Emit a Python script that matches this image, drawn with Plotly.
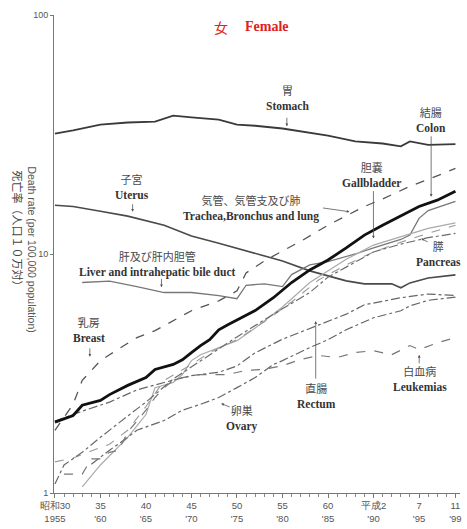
import plotly.graph_objects as go

# ---------------- data ----------------
stomach_years = [1955, 1957, 1960, 1963, 1966, 1968, 1970, 1973, 1975, 1977, 1980, 1982, 1985, 1988, 1991, 1993, 1994, 1996, 1999]
stomach_vals = [31.9, 32.9, 34.8, 35.5, 35.8, 37.9, 37.3, 36.5, 34.8, 34.4, 33.5, 32.6, 31.3, 29.6, 29.0, 28.2, 29.6, 28.6, 28.8]

uterus_years = [1955, 1957, 1960, 1963, 1967, 1970, 1973, 1976, 1980, 1983, 1987, 1989, 1992, 1993, 1994, 1996, 1999]
uterus_vals = [16.0, 15.8, 15.1, 14.4, 13.2, 11.9, 11.1, 10.3, 9.35, 8.5, 7.72, 7.5, 7.5, 7.22, 7.57, 7.94, 8.18]

liver_years = [1958, 1961, 1964, 1967, 1970, 1973, 1975, 1976, 1978, 1980, 1981, 1983, 1985, 1988, 1990, 1993, 1994, 1995, 1996, 1999]
liver_vals = [7.6, 7.7, 7.3, 6.9, 6.9, 6.7, 6.5, 7.4, 7.5, 7.3, 8.2, 9.0, 9.3, 10.0, 10.6, 11.5, 12.0, 14.1, 15.2, 16.6]

colon_years = [1955, 1957, 1958, 1960, 1961, 1962, 1963, 1965, 1966, 1968, 1969, 1970, 1971, 1972, 1973, 1974, 1977, 1979, 1981, 1983, 1985, 1987, 1989, 1991, 1993, 1995, 1997, 1999]
colon_vals = [1.98, 2.11, 2.33, 2.44, 2.58, 2.69, 2.82, 3.04, 3.29, 3.45, 3.61, 3.87, 4.14, 4.38, 4.82, 5.06, 5.8, 6.56, 7.6, 8.58, 9.44, 10.6, 12.0, 13.2, 14.5, 15.8, 16.8, 18.3]

lung_years = [1955, 1957, 1958, 1960, 1961, 1964, 1966, 1968, 1970, 1973, 1975, 1976, 1978, 1980, 1982, 1985, 1987, 1989, 1991, 1994, 1996, 1999]
lung_vals = [1.83, 2.35, 2.96, 3.58, 3.79, 4.47, 4.78, 5.26, 5.79, 6.37, 7.01, 8.33, 9.35, 10.3, 11.3, 13.2, 14.5, 15.8, 17.0, 19.2, 20.5, 22.8]

gall_years = [1958, 1960, 1963, 1965, 1966, 1968, 1969, 1970, 1971, 1973, 1975, 1977, 1980, 1983, 1985, 1987, 1990, 1993, 1996, 1999]
gall_vals = [1.06, 1.31, 1.71, 2.13, 2.76, 2.9, 3.13, 3.58, 3.79, 4.06, 4.34, 4.9, 6.0, 7.6, 8.5, 9.5, 10.9, 11.8, 12.8, 13.5]

pancreas_years = [1955, 1956, 1958, 1960, 1963, 1965, 1968, 1971, 1975, 1979, 1983, 1985, 1988, 1990, 1993, 1996, 1999]
pancreas_vals = [1.09, 1.31, 1.48, 1.71, 2.1, 2.4, 3.0, 3.58, 4.5, 5.6, 6.9, 8.0, 9.3, 10.2, 11.0, 11.7, 12.2]

breast_years = [1955, 1957, 1959, 1961, 1963, 1965, 1967, 1970, 1972, 1975, 1978, 1981, 1984, 1987, 1990, 1993, 1996, 1999]
breast_vals = [1.35, 1.4, 1.5, 1.6, 1.83, 2.3, 2.96, 3.45, 3.87, 4.38, 5.2, 6.3, 7.8, 9.0, 10.2, 11.2, 12.2, 13.2]

rectum_years = [1955, 1958, 1961, 1964, 1967, 1970, 1973, 1975, 1977, 1980, 1984, 1987, 1989, 1993, 1996, 1999]
rectum_vals = [2.0, 2.2, 2.4, 2.7, 2.9, 3.1, 3.2, 3.4, 3.86, 4.4, 5.05, 5.6, 6.13, 6.56, 6.8, 6.7]

ovary_years = [1959, 1961, 1963, 1964, 1967, 1969, 1971, 1973, 1975, 1977, 1979, 1980, 1983, 1985, 1987, 1990, 1993, 1994, 1996, 1999]
ovary_vals = [1.32, 1.51, 1.71, 1.83, 2.01, 2.22, 2.35, 2.51, 2.76, 3.04, 3.45, 3.58, 4.06, 4.38, 4.82, 5.41, 5.79, 6.07, 6.4, 6.6]

leuk_years = [1956, 1958, 1959, 1960, 1961, 1962, 1963, 1965, 1966, 1967, 1968, 1969, 1971, 1974, 1976, 1978, 1980, 1982, 1984, 1986, 1988, 1990, 1992, 1994, 1995, 1997, 1999]
leuk_vals = [1.2, 1.2, 1.39, 1.39, 1.48, 1.51, 1.8, 2.22, 2.51, 2.76, 2.96, 3.04, 3.13, 3.13, 3.26, 3.29, 3.41, 3.62, 3.76, 3.69, 3.87, 3.94, 3.79, 4.14, 3.98, 4.25, 4.47]

x_tickvals = [1955, 1960, 1965, 1970, 1975, 1980, 1985, 1990, 1995, 1999]
x_ticktext = ["昭和30<br>1955", "35<br>'60", "40<br>'65", "45<br>'70", "50<br>'75",
              "55<br>'80", "60<br>'85", "平成2<br>'90", "7<br>'95", "11<br>'99"]
y_tickvals = [1, 10, 100]

# ---------------- figure ----------------
W, H = 467, 529
ML, MR, MT, MB = 54, 5, 15, 33
PW, PH = W - ML - MR, H - MT - MB

def px(x, y):
    return (x - ML) / PW, (H - MB - y) / PH

fig = go.Figure()

def add(xs, ys, color, width, dash="solid"):
    fig.add_trace(go.Scatter(x=xs, y=ys, mode="lines",
                             line=dict(color=color, width=width, dash=dash),
                             hoverinfo="skip", showlegend=False))

add(stomach_years, stomach_vals, "#3a3a3a", 1.8)
add(uterus_years, uterus_vals, "#4a4a4a", 1.6)
add(liver_years, liver_vals, "#777777", 1.3)
add(gall_years, gall_vals, "#aaaaaa", 1.2)
add(breast_years, breast_vals, "#999999", 1.1, "dash")
add(pancreas_years, pancreas_vals, "#6a6a6a", 1.2, "dashdot")
add(rectum_years, rectum_vals, "#666666", 1.2, "dashdot")
add(ovary_years, ovary_vals, "#666666", 1.2, "dashdot")
add(leuk_years, leuk_vals, "#777777", 1.2, "dash")
add(lung_years, lung_vals, "#555555", 1.3, "dash")
add(colon_years, colon_vals, "#111111", 2.8)

SERIF = "Liberation Serif, Times New Roman, serif"
JP = "Noto Sans CJK JP"

def label(jp, en, x, y_mid):
    xp, yp = px(x, y_mid)
    txt = ("<span style='font-family:Noto Sans CJK JP;font-size:11px;color:#4a4a4a'>" + jp +
           "</span><br><b>" + en + "</b>")
    fig.add_annotation(x=xp, y=yp, xref="paper", yref="paper", text=txt, showarrow=False,
                       font=dict(family=SERIF, size=11.5, color="#333333"),
                       xanchor="center", yanchor="middle")

def arrow(x0, y0, x1, y1):
    xp, yp = px(x1, y1)
    fig.add_annotation(x=xp, y=yp, xref="paper", yref="paper", text="", showarrow=True,
                       ax=x0 - x1, ay=y0 - y1, axref="pixel", ayref="pixel",
                       arrowhead=2, arrowsize=0.7, arrowwidth=0.8, arrowcolor="#555")

label("胃", "Stomach", 289, 98)
arrow(288, 117, 288, 127)
label("子宮", "Uterus", 132, 187)
arrow(133, 204, 133, 213)
label("気管、気管支及び肺", "Trachea,Bronchus and lung", 252, 209)
arrow(323, 209, 351, 213)
label("肝及び肝内胆管", "Liver and intrahepatic bile duct", 158, 265)
arrow(162, 279, 162, 289)
label("乳房", "Breast", 89, 331)
arrow(90, 349, 90, 359)
label("胆嚢", "Gallbladder", 373, 175)
arrow(375, 191, 375, 240)
label("結腸", "Colon", 433, 120)
arrow(433, 136, 433, 198)
label("膵", "Pancreas", 440, 254)
arrow(431, 244, 423, 240)
label("直腸", "Rectum", 318, 397)
arrow(317, 382, 317, 323)
label("卵巣", "Ovary", 243, 420)
arrow(232, 410, 222, 406)
label("白血病", "Leukemias", 422, 380)
arrow(421, 367, 421, 357)

# title
xp, yp = px(222, 27)
fig.add_annotation(x=xp, y=yp, xref="paper", yref="paper", text="女", showarrow=False,
                   font=dict(family=JP, size=14, color="#e02020"), xanchor="center", yanchor="middle")
xp, yp = px(268, 27)
fig.add_annotation(x=xp, y=yp, xref="paper", yref="paper", text="<b>Female</b>", showarrow=False,
                   font=dict(family=SERIF, size=14, color="#e02020"), xanchor="center", yanchor="middle")

# y-axis titles (rotated clockwise)
xp, yp = px(32, 251)
fig.add_annotation(x=xp, y=yp, xref="paper", yref="paper", text="Death rate (per 100,000 population)",
                   showarrow=False, textangle=90, xanchor="center", yanchor="middle",
                   font=dict(family="Liberation Sans, Arial", size=10.5, color="#555"))
xp, yp = px(18, 232)
fig.add_annotation(x=xp, y=yp, xref="paper", yref="paper", text="死亡率（人口１０万対）",
                   showarrow=False, textangle=90, xanchor="center", yanchor="middle",
                   font=dict(family=JP, size=11, color="#444"))

fig.update_layout(
    width=W, height=H, margin=dict(l=ML, r=MR, t=MT, b=MB),
    paper_bgcolor="white", plot_bgcolor="white",
    xaxis=dict(range=[1954.9, 1999.5], tickvals=x_tickvals, ticktext=x_ticktext,
               showgrid=False, zeroline=False, showline=True, linecolor="#777", linewidth=1,
               ticks="outside", ticklen=4, tickcolor="#777",
               minor=dict(dtick=1, tick0=1955, ticks="outside", ticklen=3, tickcolor="#888"),
               tickfont=dict(family="Liberation Sans, Arial", size=9.5, color="#555")),
    yaxis=dict(type="log", range=[0, 2], tickvals=y_tickvals, ticktext=["1", "10", "100"],
               showgrid=False, zeroline=False, showline=True, linecolor="#777", linewidth=1,
               ticks="outside", ticklen=3, tickcolor="#777",
               tickfont=dict(family="Liberation Sans, Arial", size=9, color="#555")),
)

fig.write_html("out.html")
